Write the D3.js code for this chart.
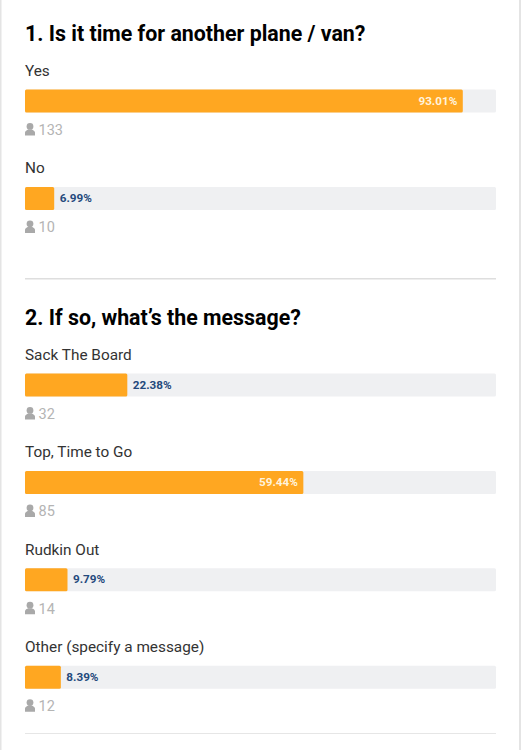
<!DOCTYPE html>
<html><head><meta charset="utf-8">
<script src="https://cdn.jsdelivr.net/npm/d3@7/dist/d3.min.js"></script>
<style>html,body{margin:0;padding:0;background:#fff}svg{display:block;font-family:Roboto,sans-serif}</style>
</head><body><svg id="c" width="521" height="750"></svg>
<script>
const titles = ["1. Is it time for another plane / van?", "2. If so, what\u2019s the message?"];
const labelsQ1 = ["Yes", "No"];
const percentQ1 = [93.01, 6.99];
const votesQ1 = [133, 10];
const labelsQ2 = ["Sack The Board", "Top, Time to Go", "Rudkin Out", "Other (specify a message)"];
const percentQ2 = [22.38, 59.44, 9.79, 8.39];
const votesQ2 = [32, 85, 14, 12];

const svg = d3.select("#c");
svg.append("rect").attr("x",0).attr("y",0).attr("width",1.5).attr("height",750).attr("fill","#e4e4e4");
svg.append("rect").attr("x",519).attr("y",0).attr("width",2).attr("height",750).attr("fill","#e4e4e4");

const x = d3.scaleLinear().domain([0,100]).range([21,496]);
const rowH = 97.4;
function question(title, titleY, firstY, labels, pct, votes){
  svg.append("text").attr("x",25).attr("y",titleY).attr("font-size",21.35).attr("font-weight",700).attr("fill","#000").text(title);
  const g = svg.selectAll(null).data(labels.map((l,i)=>({l,p:pct[i],v:votes[i]}))).join("g")
    .attr("transform",(d,i)=>`translate(0,${firstY+i*rowH})`);
  g.append("text").attr("x",25).attr("y",0).attr("font-size",15.35).attr("fill","#333").text(d=>d.l);
  g.append("rect").attr("x",25).attr("y",13.5).attr("width",471).attr("height",23).attr("rx",1.5).attr("fill","#eff0f2");
  g.append("rect").attr("x",25).attr("y",13.5).attr("width",d=>x(d.p)-25).attr("height",23).attr("rx",1.5).attr("fill","#ffa721");
  g.append("text").attr("font-size",11.7).attr("font-weight",700).attr("y",28.5)
    .attr("x",d=>d.p>50?x(d.p)-5.5:x(d.p)+5.5)
    .attr("text-anchor",d=>d.p>50?"end":"start")
    .attr("fill",d=>d.p>50?"#fff3dc":"#24497c")
    .text(d=>d.p.toFixed(2)+"%");
  const ic = g.append("g").attr("transform","translate(25,47)").attr("fill","#a9a9a9");
  ic.append("circle").attr("cx",5).attr("cy",3.4).attr("r",3.4);
  ic.append("path").attr("d","M0,12.5 V9.4 C0,7.6 2,7.2 3.2,6.4 H6.8 C8,7.2 10,7.6 10,9.4 V12.5 Z");
  g.append("text").attr("x",38.5).attr("y",58.8).attr("font-size",14.5).attr("fill","#b4b4b4").text(d=>d.v);
}
question(titles[0],41,76,labelsQ1,percentQ1,votesQ1);
svg.append("rect").attr("x",25).attr("y",278).attr("width",471).attr("height",1.5).attr("fill","#dedede");
question(titles[1],325,360,labelsQ2,percentQ2,votesQ2);
svg.append("rect").attr("x",25).attr("y",733).attr("width",471).attr("height",1).attr("fill","#e6e6e6");
</script></body></html>
